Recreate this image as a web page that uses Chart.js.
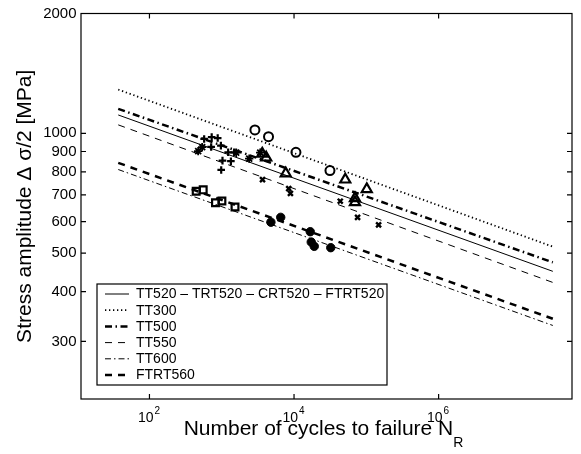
<!DOCTYPE html>
<html>
<head>
<meta charset="utf-8">
<script src="https://cdn.jsdelivr.net/npm/chart.js@4"></script>
<style>
body { margin: 0; background: #fff; }
#wrap { width: 581px; height: 454px; }
</style>
</head>
<body>
<div id="wrap"><canvas id="snChart"></canvas></div>
<script>
// Basquin fit lines (two ends each, log-log)
const lineCycles = [37, 3.8e7];
const tt520Fit = [1112, 450];
const tt300Fit = [1288, 519];
const tt500Fit = [1152, 474];
const tt550Fit = [1050, 422];
const tt600Fit = [811, 329];
const ftrt560Fit = [843, 342];

// test points
const tt300N = [2876, 4436, 10624, 31400];
const tt300S = [1020, 981, 896, 806];
const tt500N = [3631, 4121, 7674, 51130, 101400, 69660, 69660];
const tt500S = [889, 869, 793, 765, 724, 687, 671];
const tt550N = [3664, 8445, 8913, 43590, 75700, 147800];
const tt550S = [765, 726, 706, 675, 615, 589];
const tt600N = [4786, 6546, 16760, 17300, 19040, 32210];
const tt600S = [598, 615, 566, 533, 520, 516];
const ftrt560N = [443, 554, 819, 1005, 1526];
const ftrt560S = [715, 721, 669, 676, 653];
const tt520N = [571, 726, 879, 714, 973, 1227, 1486, 1024, 1338, 983];
const tt520S = [968, 978, 973, 924, 931, 896, 896, 854, 851, 809];
const trt520N = [472, 536, 1585, 2399, 3404];
const trt520S = [902, 923, 894, 864, 894];

// axes
const xTickValues = [1e2, 1e4, 1e6];
const xTickExp = ['2', '4', '6'];
const yTickValues = [300, 400, 500, 600, 700, 800, 900, 1000, 2000];

const FONT = "'Liberation Sans', Arial, sans-serif";

function pts(xs, ys) {
    return xs.map((v, i) => ({x: v, y: ys[i]}));
}

function fitLine(label, ys, dash, width) {
    return {
        label: label,
        data: pts(lineCycles, ys),
        showLine: true,
        borderColor: '#000',
        borderWidth: width,
        borderDash: dash,
        pointRadius: 0,
        isFit: true
    };
}

function marks(xs, ys, style, radius, width, filled) {
    return {
        data: pts(xs, ys),
        showLine: false,
        pointStyle: style,
        pointRadius: radius,
        pointBorderWidth: width,
        pointBorderColor: '#000',
        pointBackgroundColor: filled ? '#000' : 'rgba(0,0,0,0)'
    };
}

// frame, inward ticks, x labels with exponents, x title with subscript
const frame = {
    id: 'frame',
    afterDraw(chart) {
        const {ctx, chartArea: a, scales: {x, y}} = chart;
        ctx.save();
        ctx.strokeStyle = '#000';
        ctx.lineWidth = 1.2;
        ctx.setLineDash([]);
        ctx.strokeRect(a.left, a.top, a.width, a.height);
        ctx.beginPath();
        xTickValues.forEach(v => {
            let px = x.getPixelForValue(v);
            ctx.moveTo(px, a.bottom); ctx.lineTo(px, a.bottom - 5);
            ctx.moveTo(px, a.top); ctx.lineTo(px, a.top + 5);
        });
        yTickValues.forEach(v => {
            let py = y.getPixelForValue(v);
            ctx.moveTo(a.left, py); ctx.lineTo(a.left + 5, py);
            ctx.moveTo(a.right, py); ctx.lineTo(a.right - 5, py);
        });
        ctx.stroke();

        ctx.fillStyle = '#000';
        ctx.textBaseline = 'alphabetic';
        xTickValues.forEach((v, i) => {
            let px = x.getPixelForValue(v);
            ctx.font = '14px ' + FONT;
            let w1 = ctx.measureText('10').width;
            ctx.font = '10px ' + FONT;
            let w2 = ctx.measureText(xTickExp[i]).width;
            let x0 = px - (w1 + w2) / 2 - 1;
            ctx.font = '14px ' + FONT;
            ctx.textAlign = 'left';
            ctx.fillText('10', x0, 422);
            ctx.font = '10px ' + FONT;
            ctx.fillText(xTickExp[i], x0 + w1 + 1, 413.5);
        });

        let title = 'Number of cycles to failure N';
        ctx.font = '21px ' + FONT;
        let tw = ctx.measureText(title).width;
        ctx.font = '14px ' + FONT;
        let sw = ctx.measureText('R').width;
        let tx = (a.left + a.right) / 2 - (tw + sw) / 2 - 3;
        ctx.font = '21px ' + FONT;
        ctx.fillText(title, tx, 435);
        ctx.font = '14px ' + FONT;
        ctx.fillText('R', tx + tw, 447);
        ctx.restore();
    }
};

// legend box inside the axes, lower left
const legendBox = {
    id: 'legendBox',
    afterDatasetsDraw(chart) {
        const {ctx, chartArea: a} = chart;
        const left = a.left + 16, top = a.bottom - 115, w = 290, h = 101, rowH = 16.2;
        ctx.save();
        ctx.fillStyle = '#fff';
        ctx.fillRect(left, top, w, h);
        ctx.strokeStyle = '#000';
        ctx.lineWidth = 1.2;
        ctx.strokeRect(left, top, w, h);
        ctx.font = '14px ' + FONT;
        ctx.textBaseline = 'middle';
        ctx.fillStyle = '#000';
        chart.data.datasets.filter(d => d.isFit).forEach((d, i) => {
            let cy = top + 10 + i * rowH;
            ctx.setLineDash(d.borderDash || []);
            ctx.lineWidth = d.borderWidth;
            ctx.beginPath();
            ctx.moveTo(left + 8, cy);
            ctx.lineTo(left + 32, cy);
            ctx.stroke();
            ctx.fillText(d.label, left + 39, cy + 0.5);
        });
        ctx.restore();
    }
};

let ctx = document.getElementById('snChart').getContext('2d');
new Chart(ctx, {
    type: 'scatter',
    data: {
        datasets: [
            fitLine('TT520 \u2013 TRT520 \u2013 CRT520 \u2013 FTRT520', tt520Fit, [], 1),
            fitLine('TT300', tt300Fit, [1.3, 2.7], 1.8),
            fitLine('TT500', tt500Fit, [7, 3.5, 1.5, 3.5], 2.5),
            fitLine('TT550', tt550Fit, [7, 6], 1),
            fitLine('TT600', tt600Fit, [6, 3, 1.5, 3], 1),
            fitLine('FTRT560', ftrt560Fit, [7, 6], 2.5),
            marks(tt300N, tt300S, 'circle', 4.5, 2, false),
            marks(tt500N, tt500S, 'triangle', 5.8, 2.2, false),
            marks(tt550N, tt550S, 'crossRot', 3.5, 2.4, false),
            marks(tt600N, tt600S, 'circle', 4.2, 1, true),
            marks(ftrt560N, ftrt560S, 'rect', 4.8, 2.2, false),
            marks(tt520N, tt520S, 'cross', 3.8, 2.2, false),
            marks(trt520N, trt520S, 'star', 4.2, 1.8, false)
        ]
    },
    options: {
        responsive: true,
        maintainAspectRatio: false,
        animation: false,
        layout: { padding: { top: 12, right: 9, left: 0, bottom: 0 } },
        plugins: {
            legend: { display: false },
            tooltip: { enabled: false }
        },
        scales: {
            x: {
                type: 'logarithmic',
                min: 11.3,
                max: 7e7,
                grid: { display: false },
                border: { display: false },
                ticks: { display: false },
                afterBuildTicks: s => { s.ticks = xTickValues.map(v => ({value: v})); },
                afterFit: s => { s.height = 55; }
            },
            y: {
                type: 'logarithmic',
                min: 215,
                max: 2000,
                grid: { display: false, drawTicks: false },
                border: { display: false },
                ticks: {
                    padding: 4.5,
                    color: '#000',
                    font: { family: FONT, size: 15 },
                    callback: v => String(v)
                },
                title: {
                    display: true,
                    text: 'Stress amplitude \u0394 \u03c3/2 [MPa]',
                    color: '#000',
                    font: { family: FONT, size: 21 },
                    padding: { top: 13, bottom: 0 }
                },
                afterBuildTicks: s => { s.ticks = yTickValues.map(v => ({value: v})); },
                afterFit: s => { s.width = 81; }
            }
        }
    },
    plugins: [frame, legendBox]
});
</script>
</body>
</html>
